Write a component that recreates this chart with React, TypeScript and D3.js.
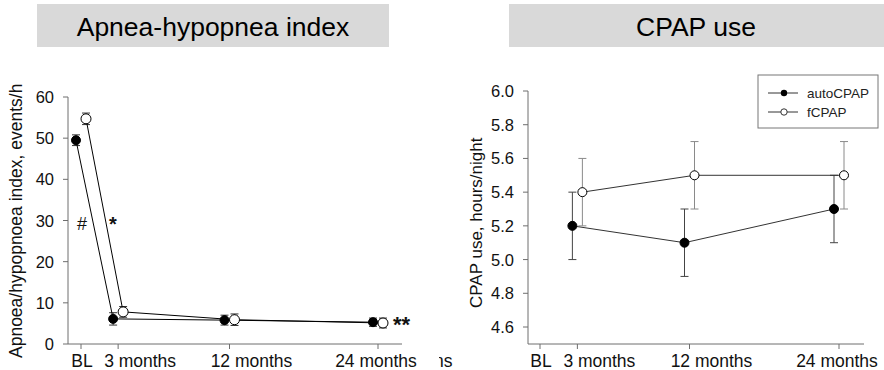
import React from "react";
import * as d3 from "d3";

// time points in months (BL = 0)
const months = [0, 3, 12, 24];
const tickLabels = ["BL", "3 months", "12 months", "24 months"];

// apnea-hypopnea index (events/h)
const ahiAuto = [49.5, 6.1, 5.8, 5.3];
const ahiAutoErr = [1.3, 1.5, 1.2, 1.0];
const ahiFixed = [54.7, 7.8, 5.9, 5.1];
const ahiFixedErr = [1.4, 1.3, 1.4, 1.2];
const ahiTicks = [0, 10, 20, 30, 40, 50, 60];

// CPAP use (hours/night), no BL value
const useMonths = [3, 12, 24];
const useAuto = [5.2, 5.1, 5.3];
const useFixed = [5.4, 5.5, 5.5];
const useErr = [0.2, 0.2, 0.2];
const useTicks = [4.6, 4.8, 5.0, 5.2, 5.4, 5.6, 5.8, 6.0];

const FONT = "'Liberation Sans', Arial, sans-serif";
const AX = "#6e6e6e";
// tick labels in the original are nudged off their ticks
const labelShift = [1, 22, 22, -2];

function ErrBars({ xs, ys, err, x, y, dx, color }: any) {
  return (
    <g stroke={color} strokeWidth={1}>
      {xs.map((m: number, i: number) => {
        const cx = x(m) + dx;
        const y0 = y(ys[i] - err[i]);
        const y1 = y(ys[i] + err[i]);
        return (
          <g key={i}>
            <line x1={cx} x2={cx} y1={y0} y2={y1} />
            <line x1={cx - 4} x2={cx + 4} y1={y0} y2={y0} />
            <line x1={cx - 4} x2={cx + 4} y1={y1} y2={y1} />
          </g>
        );
      })}
    </g>
  );
}

function Series({ xs, ys, x, y, dx, filled, r, lineColor }: any) {
  const ln = d3
    .line<number>()
    .x((d, i) => x(xs[i]) + dx)
    .y((d) => y(d));
  return (
    <g>
      <path d={ln(ys) || ""} fill="none" stroke={lineColor} strokeWidth={1} />
      {ys.map((v: number, i: number) => (
        <circle
          key={i}
          cx={x(xs[i]) + dx}
          cy={y(v)}
          r={r}
          fill={filled ? "#000" : "#fff"}
          stroke="#000"
          strokeWidth={1}
        />
      ))}
    </g>
  );
}

function XAxis({ x, y0, x0, x1 }: any) {
  return (
    <g>
      <line x1={x0} x2={x1} y1={y0} y2={y0} stroke={AX} />
      {months.map((m, i) => (
        <g key={m}>
          <line x1={x(m)} x2={x(m)} y1={y0} y2={y0 + 5} stroke={AX} />
          <text
            x={x(m) + labelShift[i]}
            y={y0 + 23}
            textAnchor="middle"
            fontSize={17.5}
            fill="#111"
          >
            {tickLabels[i]}
          </text>
        </g>
      ))}
    </g>
  );
}

function YAxis({ y, ticks, x0, y0, y1, fmt }: any) {
  return (
    <g>
      <line x1={x0} x2={x0} y1={y0} y2={y1} stroke={AX} />
      {ticks.map((t: number) => (
        <g key={t}>
          <line x1={x0 - 5} x2={x0} y1={y(t)} y2={y(t)} stroke={AX} />
          <text x={x0 - 14} y={y(t) + 6} textAnchor="end" fontSize={16.5} fill="#111">
            {fmt(t)}
          </text>
        </g>
      ))}
    </g>
  );
}

export default function App() {
  const xL = d3.scaleLinear().domain([0, 24]).range([81, 378]);
  const yL = d3.scaleLinear().domain([0, 60]).range([344, 97]);
  const xR = d3.scaleLinear().domain([0, 24]).range([540, 839]);
  const yR = d3.scaleLinear().domain([4.6, 6.0]).range([327, 91]);
  const off = 5;

  return (
    <svg
      width={884}
      height={370}
      style={{ position: "absolute", left: 0, top: 0, fontFamily: FONT }}
    >
      <defs>
        <clipPath id="ylabL">
          <rect x={0} y={84} width={40} height={290} />
        </clipPath>
        <clipPath id="nsClip">
          <rect x={439} y={330} width={30} height={40} />
        </clipPath>
      </defs>
      <rect width={884} height={370} fill="#fff" />

      {/* titles */}
      <rect x={37} y={4} width={352} height={43} fill="#d9d9d9" />
      <text x={213} y={36} textAnchor="middle" fontSize={26.5} fill="#000">
        Apnea-hypopnea index
      </text>
      <rect x={509} y={4} width={375} height={43} fill="#d9d9d9" />
      <text x={696} y={36} textAnchor="middle" fontSize={26.5} fill="#000">
        CPAP use
      </text>

      {/* left panel */}
      <g clipPath="url(#ylabL)">
        <text
          transform="translate(22,358) rotate(-90)"
          fontSize={17.5}
          fill="#111"
        >
          Apnoea/hypopnoea index, events/hour
        </text>
      </g>
      <YAxis y={yL} ticks={ahiTicks} x0={68} y0={344} y1={97} fmt={(t: number) => String(t)} />
      <XAxis x={xL} y0={344} x0={68} x1={402} />
      <ErrBars xs={months} ys={ahiAuto} err={ahiAutoErr} x={xL} y={yL} dx={-off} color="#333" />
      <ErrBars xs={months} ys={ahiFixed} err={ahiFixedErr} x={xL} y={yL} dx={off} color="#333" />
      <Series xs={months} ys={ahiAuto} x={xL} y={yL} dx={-off} filled r={4.5} lineColor="#000" />
      <Series xs={months} ys={ahiFixed} x={xL} y={yL} dx={off} filled={false} r={5} lineColor="#000" />
      <text x={82} y={230} textAnchor="middle" fontSize={18} fill="#111">#</text>
      <text x={113} y={231} textAnchor="middle" fontSize={20} fontWeight="bold" fill="#111">*</text>
      <text x={393} y={332} fontSize={22} fontWeight="bold" fill="#111">**</text>
      <g clipPath="url(#nsClip)">
        <text x={434} y={367} fontSize={17.5} fill="#111">ns</text>
      </g>

      {/* right panel */}
      <text
        transform="translate(482,308) rotate(-90)"
        fontSize={17}
        fill="#111"
      >
        CPAP use, hours/night
      </text>
      <YAxis y={yR} ticks={useTicks} x0={528} y0={344} y1={91} fmt={d3.format(".1f")} />
      <XAxis x={xR} y0={344} x0={528} x1={864} />
      <ErrBars xs={useMonths} ys={useFixed} err={useErr} x={xR} y={yR} dx={off} color="#8a8a8a" />
      <ErrBars xs={useMonths} ys={useAuto} err={useErr} x={xR} y={yR} dx={-off} color="#444" />
      <Series xs={useMonths} ys={useFixed} x={xR} y={yR} dx={off} filled={false} r={4.5} lineColor="#333" />
      <Series xs={useMonths} ys={useAuto} x={xR} y={yR} dx={-off} filled r={4.5} lineColor="#333" />

      {/* legend */}
      <rect x={758} y={75} width={120} height={53} fill="#fff" stroke="#777" />
      <line x1={768} x2={798} y1={93} y2={93} stroke="#333" />
      <circle cx={784} cy={93} r={3.2} fill="#000" />
      <text x={807} y={98} fontSize={13.5} fill="#222">autoCPAP</text>
      <line x1={768} x2={798} y1={112} y2={112} stroke="#333" />
      <circle cx={784} cy={112} r={3.2} fill="#fff" stroke="#333" />
      <text x={807} y={117} fontSize={13.5} fill="#222">fCPAP</text>
    </svg>
  );
}
